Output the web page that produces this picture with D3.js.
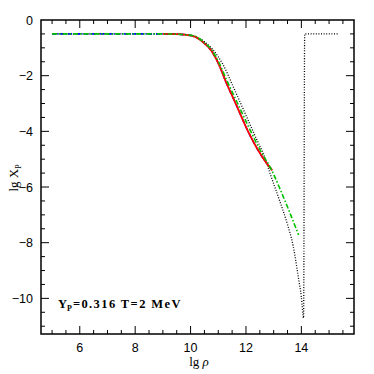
<!DOCTYPE html>
<html>
<head>
<meta charset="utf-8">
<script src="https://cdn.jsdelivr.net/npm/d3@7"></script>
<style>
  body { margin: 0; background: #fff; }
  svg { display: block; }
</style>
</head>
<body>
<div id="chart"></div>
<script>
// lg rho / lg Xp
var blackX = [5, 9.5, 10.0, 10.5, 10.8, 11.17, 11.55, 11.9, 12.3, 12.68, 12.9, 13.2, 13.5, 13.7, 13.9, 14.0, 14.08, 14.12, 15.32];
var blackY = [-0.5, -0.5, -0.55, -0.78, -1.06, -1.6, -2.42, -3.2, -4.1, -4.95, -5.6, -6.45, -7.35, -8.1, -9.3, -9.95, -10.7, -0.5, -0.5];

var blueX = [5, 9.0, 9.5, 9.8, 10.15, 10.5, 10.75, 11.0, 11.3, 11.65, 12.05, 12.45, 12.75, 12.9];
var blueY = [-0.5, -0.5, -0.51, -0.53, -0.6, -0.84, -1.1, -1.55, -2.28, -3.05, -3.95, -4.7, -5.15, -5.33];

var redX = [9.0, 9.5, 9.8, 10.15, 10.5, 10.75, 11.0, 11.3, 11.65, 12.05, 12.45, 12.75, 12.95];
var redY = [-0.5, -0.51, -0.53, -0.6, -0.84, -1.1, -1.55, -2.28, -3.05, -3.95, -4.7, -5.15, -5.4];

var greenX = [5, 9.0, 9.5, 9.8, 10.15, 10.5, 10.75, 11.0, 11.3, 11.7, 12.1, 12.5, 12.98, 13.2, 13.5, 13.9];
var greenY = [-0.5, -0.5, -0.51, -0.53, -0.58, -0.82, -1.06, -1.48, -2.15, -3.0, -3.85, -4.65, -5.5, -6.0, -6.72, -7.72];

var xMajor = [6, 8, 10, 12, 14];
var yMajor = [0, -2, -4, -6, -8, -10];

var width = 374, height = 374,
    margin = {top: 20, right: 20, bottom: 40, left: 41};
var w = 313, h = 314;

var svg = d3.select('#chart').append('svg')
    .attr('width', width).attr('height', height);
var g = svg.append('g')
    .attr('transform', 'translate(' + margin.left + ',' + margin.top + ')');

var x = d3.scaleLinear().domain([4.6, 15.9]).range([0, w]);
var y = d3.scaleLinear().domain([-11.28, 0]).range([h, 0]);

var xMinor = d3.range(5, 15.9, 0.5).filter(function(v) { return xMajor.indexOf(v) < 0; });
var yMinor = d3.range(-11, 0, 0.5).filter(function(v) { return yMajor.indexOf(v) < 0; });

function zip(xs, ys) {
  return xs.map(function(v, i) { return [v, ys[i]]; });
}

var line = d3.line()
    .x(function(d) { return x(d[0]); })
    .y(function(d) { return y(d[1]); })
    .curve(d3.curveMonotoneX);

g.append('path').datum(zip(blackX, blackY))
    .attr('d', line).attr('fill', 'none')
    .attr('stroke', '#000').attr('stroke-width', 1.3)
    .attr('stroke-dasharray', '1,1.6');

g.append('path').datum(zip(blueX, blueY))
    .attr('d', line).attr('fill', 'none')
    .attr('stroke', '#0000ff').attr('stroke-width', 1.6)
    .attr('stroke-dasharray', '4,1.5,1,1.5');

g.append('path').datum(zip(redX, redY))
    .attr('d', line).attr('fill', 'none')
    .attr('stroke', '#ff0000').attr('stroke-width', 1.8);

g.append('path').datum(zip(greenX, greenY))
    .attr('d', line).attr('fill', 'none')
    .attr('stroke', '#00c000').attr('stroke-width', 1.6)
    .attr('stroke-dasharray', '5,2,1.5,2');

// ticks on all four sides, pointing inward
var axisG = g.append('g').attr('stroke', '#000').attr('stroke-width', 1);
function ticks(vals, len, isX) {
  vals.forEach(function(v) {
    if (isX) {
      axisG.append('line').attr('x1', x(v)).attr('x2', x(v)).attr('y1', h).attr('y2', h - len);
      axisG.append('line').attr('x1', x(v)).attr('x2', x(v)).attr('y1', 0).attr('y2', len);
    } else {
      axisG.append('line').attr('y1', y(v)).attr('y2', y(v)).attr('x1', 0).attr('x2', len);
      axisG.append('line').attr('y1', y(v)).attr('y2', y(v)).attr('x1', w).attr('x2', w - len);
    }
  });
}
ticks(xMajor, 8, true);
ticks(xMinor, 4, true);
ticks(yMajor.filter(function(v) { return v !== 0; }), 8, false);
ticks(yMinor, 4, false);

g.append('rect').attr('width', w).attr('height', h)
    .attr('fill', 'none').attr('stroke', '#000').attr('stroke-width', 1.5);

var fmt = function(v) { return v < 0 ? '\u2212' + Math.abs(v) : String(v); };

g.selectAll('.xl').data(xMajor).enter().append('text')
    .attr('x', function(d) { return x(d); })
    .attr('y', h + 18)
    .attr('text-anchor', 'middle')
    .style('font', '12.5px "Liberation Sans", sans-serif')
    .text(fmt);

g.selectAll('.yl').data(yMajor).enter().append('text')
    .attr('x', -8)
    .attr('y', function(d) { return y(d) + 4.5; })
    .attr('text-anchor', 'end')
    .style('font', '12.5px "Liberation Sans", sans-serif')
    .text(fmt);

// axis titles
var xt = svg.append('text')
    .attr('x', 199).attr('y', 366)
    .attr('text-anchor', 'middle')
    .style('font', '13px "Liberation Serif", serif');
xt.append('tspan').text('lg ');
xt.append('tspan').style('font-style', 'italic').text('\u03c1');

var yt = svg.append('text')
    .attr('transform', 'translate(18,178) rotate(-90)')
    .attr('text-anchor', 'middle')
    .style('font', '13px "Liberation Serif", serif');
yt.append('tspan').text('lg X');
yt.append('tspan').attr('dy', 3).style('font-size', '8px').text('P');

// annotation
var note = svg.append('text')
    .attr('x', 58).attr('y', 308)
    .style('font', 'bold 12.5px "Liberation Serif", serif');
note.append('tspan').text('Y');
note.append('tspan').attr('dy', 3).style('font-size', '8px').text('P');
note.append('tspan').attr('dy', -3).attr('dx', 1).text('=0.316  T=2  MeV')
    .style('letter-spacing', '1.4px');
</script>
</body>
</html>
